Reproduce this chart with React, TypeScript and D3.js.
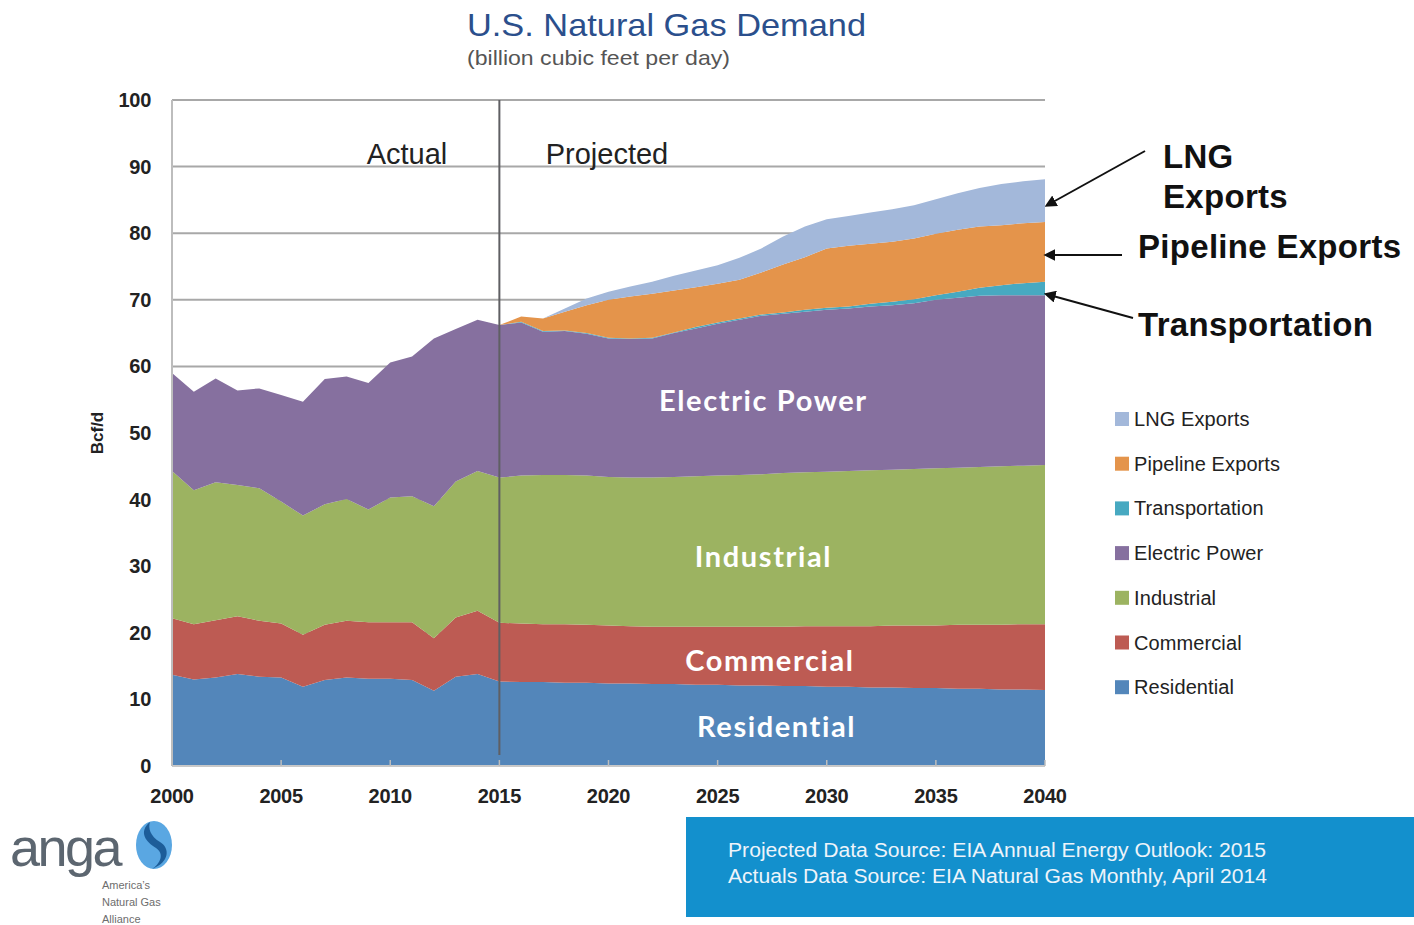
import React, { useEffect, useRef } from 'react';
import * as d3 from 'd3';

// years 2000-2015 actual, 2016-2040 projected
const years = d3.range(2000, 2041);

const residential = [13.7, 13.0, 13.3, 13.8, 13.4, 13.3, 11.9, 12.9, 13.3, 13.1, 13.1, 12.9, 11.3, 13.4, 13.8, 12.7,
    12.6, 12.6, 12.5, 12.5, 12.4, 12.4, 12.3, 12.3, 12.2, 12.2, 12.1, 12.1, 12.0, 12.0, 11.9, 11.9, 11.8, 11.8, 11.7, 11.7, 11.6, 11.6, 11.5, 11.5, 11.4];
const commercial = [8.5, 8.3, 8.6, 8.7, 8.4, 8.1, 7.8, 8.3, 8.5, 8.5, 8.5, 8.7, 7.9, 8.9, 9.5, 8.8,
    8.8, 8.7, 8.8, 8.7, 8.7, 8.6, 8.6, 8.6, 8.7, 8.7, 8.8, 8.8, 8.9, 9.0, 9.1, 9.1, 9.2, 9.3, 9.4, 9.4, 9.6, 9.6, 9.7, 9.8, 9.9];
const industrial = [22.1, 20.1, 20.7, 19.7, 19.9, 18.3, 17.9, 18.1, 18.3, 16.9, 18.7, 18.9, 19.8, 20.4, 21.0, 21.8,
    22.2, 22.4, 22.4, 22.4, 22.3, 22.3, 22.4, 22.5, 22.6, 22.7, 22.8, 22.9, 23.1, 23.1, 23.2, 23.3, 23.4, 23.4, 23.5, 23.6, 23.6, 23.7, 23.8, 23.8, 23.9];
const electric = [14.7, 14.8, 15.6, 14.2, 15.0, 16.0, 17.1, 18.8, 18.4, 19.0, 20.3, 21.0, 25.2, 22.9, 22.7, 22.9,
    23.0, 21.5, 21.6, 21.3, 20.8, 20.8, 20.9, 21.6, 22.2, 22.8, 23.3, 23.8, 23.9, 24.1, 24.3, 24.4, 24.6, 24.7, 24.9, 25.3, 25.5, 25.7, 25.7, 25.6, 25.5];
const transportation = [0, 0, 0, 0, 0, 0, 0, 0, 0, 0, 0, 0, 0, 0, 0, 0,
    0.1, 0.1, 0.1, 0.1, 0.1, 0.1, 0.1, 0.1, 0.2, 0.2, 0.2, 0.2, 0.2, 0.3, 0.3, 0.3, 0.4, 0.5, 0.6, 0.7, 0.9, 1.2, 1.5, 1.8, 2.0];
const pipeline = [0, 0, 0, 0, 0, 0, 0, 0, 0, 0, 0, 0, 0, 0, 0, 0,
    0.8, 1.9, 2.8, 4.2, 5.7, 6.3, 6.6, 6.3, 6.0, 5.8, 5.8, 6.3, 7.2, 7.9, 8.9, 9.1, 9.0, 9.0, 9.1, 9.2, 9.3, 9.2, 9.0, 9.0, 9.0];
const lng = [0, 0, 0, 0, 0, 0, 0, 0, 0, 0, 0, 0, 0, 0, 0, 0,
    0, 0, 0.5, 1.0, 1.2, 1.5, 1.8, 2.2, 2.5, 2.8, 3.3, 3.6, 4.2, 4.6, 4.4, 4.5, 4.7, 4.9, 5.0, 5.2, 5.5, 5.8, 6.2, 6.3, 6.4];

const seriesKeys = ['Residential', 'Commercial', 'Industrial', 'Electric Power', 'Transportation', 'Pipeline Exports', 'LNG Exports'];
const seriesColors = ['#5386ba', '#bd5b53', '#9cb361', '#86709f', '#47a9c1', '#e4944b', '#a3b8da'];
const yTicks = [0, 10, 20, 30, 40, 50, 60, 70, 80, 90, 100];
const xTicks = [2000, 2005, 2010, 2015, 2020, 2025, 2030, 2035, 2040];

const App: React.FC = () => {
    const svgRef = useRef<SVGSVGElement>(null);

    useEffect(() => {
        if (!svgRef.current) return;
        const svg = d3.select(svgRef.current);
        svg.selectAll('*').remove();

        const x = d3.scaleLinear().domain([2000, 2040]).range([172, 1045]);
        const y = d3.scaleLinear().domain([0, 100]).range([766, 100]);

        const cols = [residential, commercial, industrial, electric, transportation, pipeline, lng];
        const table = years.map((yr, i) => {
            const row: any = { year: yr };
            seriesKeys.forEach((k, j) => { row[k] = cols[j][i]; });
            return row;
        });
        const stacked = d3.stack<any>().keys(seriesKeys)(table);

        const defs = svg.append('defs');
        defs.append('marker')
            .attr('id', 'arrow')
            .attr('viewBox', '0 0 10 10')
            .attr('refX', 2).attr('refY', 5)
            .attr('markerWidth', 6).attr('markerHeight', 6)
            .attr('orient', 'auto-start-reverse')
            .append('path').attr('d', 'M0,0 L10,5 L0,10 z').attr('fill', '#111');

        // Title
        svg.append('text').attr('x', 467).attr('y', 36)
            .attr('font-family', 'Liberation Sans, Arial, sans-serif').attr('font-size', 32)
            .attr('fill', '#2b4f8c').attr('textLength', 399).attr('lengthAdjust', 'spacingAndGlyphs')
            .text('U.S. Natural Gas Demand');
        svg.append('text').attr('x', 467).attr('y', 65)
            .attr('font-family', 'Liberation Sans, Arial, sans-serif').attr('font-size', 21)
            .attr('fill', '#555').attr('textLength', 263).attr('lengthAdjust', 'spacingAndGlyphs')
            .text('(billion cubic feet per day)');

        // Grid
        svg.append('g').selectAll('line').data(yTicks.slice(1)).enter().append('line')
            .attr('x1', 172).attr('x2', 1045)
            .attr('y1', d => y(d)).attr('y2', d => y(d))
            .attr('stroke', '#a8a8a8').attr('stroke-width', 2);

        // Areas
        const area = d3.area<any>()
            .x(d => x(d.data.year))
            .y0(d => y(d[0]))
            .y1(d => y(d[1]));
        svg.append('g').selectAll('path').data(stacked).enter().append('path')
            .attr('d', d => area(d))
            .attr('fill', (d, i) => seriesColors[i]);

        // Axes lines
        svg.append('line').attr('x1', 172).attr('x2', 172).attr('y1', 100).attr('y2', 766)
            .attr('stroke', '#bdbdbd').attr('stroke-width', 2);
        svg.append('line').attr('x1', 172).attr('x2', 1045).attr('y1', 766).attr('y2', 766)
            .attr('stroke', '#c8c8c8').attr('stroke-width', 2);
        svg.append('g').selectAll('line').data(xTicks).enter().append('line')
            .attr('x1', d => x(d)).attr('x2', d => x(d)).attr('y1', 760).attr('y2', 766)
            .attr('stroke', '#bdbdbd').attr('stroke-width', 1.5);

        // Actual / Projected divider
        svg.append('line').attr('x1', x(2015)).attr('x2', x(2015)).attr('y1', 100).attr('y2', 755)
            .attr('stroke', '#5f5f63').attr('stroke-width', 2);
        svg.append('text').attr('x', 407).attr('y', 164).attr('text-anchor', 'middle')
            .attr('font-family', 'Liberation Sans, Arial, sans-serif').attr('font-size', 29).attr('fill', '#222')
            .text('Actual');
        svg.append('text').attr('x', 607).attr('y', 164).attr('text-anchor', 'middle')
            .attr('font-family', 'Liberation Sans, Arial, sans-serif').attr('font-size', 29).attr('fill', '#222')
            .text('Projected');

        // Tick labels
        svg.append('g').selectAll('text').data(yTicks).enter().append('text')
            .attr('x', 151).attr('y', d => y(d) + 7).attr('text-anchor', 'end')
            .attr('font-family', 'Liberation Sans, Arial, sans-serif').attr('font-size', 20)
            .attr('font-weight', 'bold').attr('fill', '#222').attr('letter-spacing', -0.3)
            .text(d => d);
        svg.append('g').selectAll('text').data(xTicks).enter().append('text')
            .attr('x', d => x(d)).attr('y', 803).attr('text-anchor', 'middle')
            .attr('font-family', 'Liberation Sans, Arial, sans-serif').attr('font-size', 20)
            .attr('font-weight', 'bold').attr('fill', '#222').attr('letter-spacing', -0.3)
            .text(d => d);
        svg.append('text').attr('transform', 'translate(103,433) rotate(-90)').attr('text-anchor', 'middle')
            .attr('font-family', 'Liberation Sans, Arial, sans-serif').attr('font-size', 17)
            .attr('font-weight', 'bold').attr('fill', '#222')
            .text('Bcf/d');

        // Area labels
        const areaLabels = [
            { t: 'Electric Power', x: 2027.1, v: 54.8 },
            { t: 'Industrial', x: 2027.1, v: 31.4 },
            { t: 'Commercial', x: 2027.4, v: 15.8 },
            { t: 'Residential', x: 2027.7, v: 5.9 }
        ];
        svg.append('g').selectAll('text').data(areaLabels).enter().append('text')
            .attr('x', d => x(d.x)).attr('y', d => y(d.v) + 10).attr('text-anchor', 'middle')
            .attr('font-family', 'Lato, Open Sans, sans-serif').attr('font-size', 29)
            .attr('font-weight', 'bold').attr('fill', '#fff').attr('letter-spacing', 1.6)
            .text(d => d.t);

        // Right side callouts
        const callFont = 'Liberation Sans, Arial, sans-serif';
        const callouts = [
            { t: 'LNG', x: 1163, y: 168 },
            { t: 'Exports', x: 1163, y: 208 },
            { t: 'Pipeline Exports', x: 1138, y: 258 },
            { t: 'Transportation', x: 1138, y: 336 }
        ];
        svg.append('g').selectAll('text').data(callouts).enter().append('text')
            .attr('x', d => d.x).attr('y', d => d.y)
            .attr('font-family', callFont).attr('font-size', 33).attr('font-weight', 'bold').attr('fill', '#111')
            .attr('letter-spacing', 0.3)
            .text(d => d.t);
        const arrows = [
            { x1: 1145, y1: 151, x2: 1053, y2: 202 },
            { x1: 1122, y1: 255, x2: 1053, y2: 255 },
            { x1: 1133, y1: 318, x2: 1053, y2: 296 }
        ];
        svg.append('g').selectAll('line').data(arrows).enter().append('line')
            .attr('x1', d => d.x1).attr('y1', d => d.y1).attr('x2', d => d.x2).attr('y2', d => d.y2)
            .attr('stroke', '#111').attr('stroke-width', 2)
            .attr('marker-end', 'url(#arrow)');

        // Legend
        const legendKeys = seriesKeys.slice().reverse();
        const legendColors = seriesColors.slice().reverse();
        const lg = svg.append('g').selectAll('g').data(legendKeys).enter().append('g')
            .attr('transform', (d, i) => `translate(1115,${419 + i * 44.7})`);
        lg.append('rect').attr('x', 0).attr('y', -7).attr('width', 14).attr('height', 14)
            .attr('fill', (d, i) => legendColors[i]);
        lg.append('text').attr('x', 19).attr('y', 7)
            .attr('font-family', 'Liberation Sans, Arial, sans-serif').attr('font-size', 20)
            .attr('fill', '#222').attr('letter-spacing', 0.1)
            .text(d => d);

        // Source box
        svg.append('rect').attr('x', 686).attr('y', 817).attr('width', 728).attr('height', 100)
            .attr('fill', '#1390cd');
        svg.append('text').attr('x', 728).attr('y', 857)
            .attr('font-family', 'Liberation Sans, Arial, sans-serif').attr('font-size', 20)
            .attr('fill', '#eef4fa').attr('textLength', 538).attr('lengthAdjust', 'spacingAndGlyphs')
            .text('Projected Data Source: EIA Annual Energy Outlook: 2015');
        svg.append('text').attr('x', 728).attr('y', 883)
            .attr('font-family', 'Liberation Sans, Arial, sans-serif').attr('font-size', 20)
            .attr('fill', '#eef4fa').attr('textLength', 539).attr('lengthAdjust', 'spacingAndGlyphs')
            .text('Actuals Data Source: EIA Natural Gas Monthly, April 2014');

        // Logo
        svg.append('text').attr('x', 10).attr('y', 866)
            .attr('font-family', 'Liberation Sans, Arial, sans-serif').attr('font-size', 54)
            .attr('fill', '#5c6670').attr('letter-spacing', -2.5)
            .text('anga');
        svg.append('ellipse').attr('cx', 154).attr('cy', 845).attr('rx', 18).attr('ry', 24)
            .attr('fill', '#5aa7e2');
        svg.append('path')
            .attr('d', 'M150,822 C138,832 146,842 156,848 C165,854 160,864 152,869 C170,862 170,848 160,842 C150,836 148,828 150,822 Z')
            .attr('fill', '#1d5d99');
        ['America\u2019s', 'Natural Gas', 'Alliance'].forEach((t, i) => {
            svg.append('text').attr('x', 102).attr('y', 889 + i * 17)
                .attr('font-family', 'Liberation Sans, Arial, sans-serif').attr('font-size', 11)
                .attr('fill', '#6d6d6d').text(t);
        });
    }, []);

    return (
        <div style={{ position: 'absolute', left: 0, top: 0 }}>
            <svg ref={svgRef} width={1414} height={925} style={{ display: 'block', background: '#fff' }} />
        </div>
    );
};

export default App;
